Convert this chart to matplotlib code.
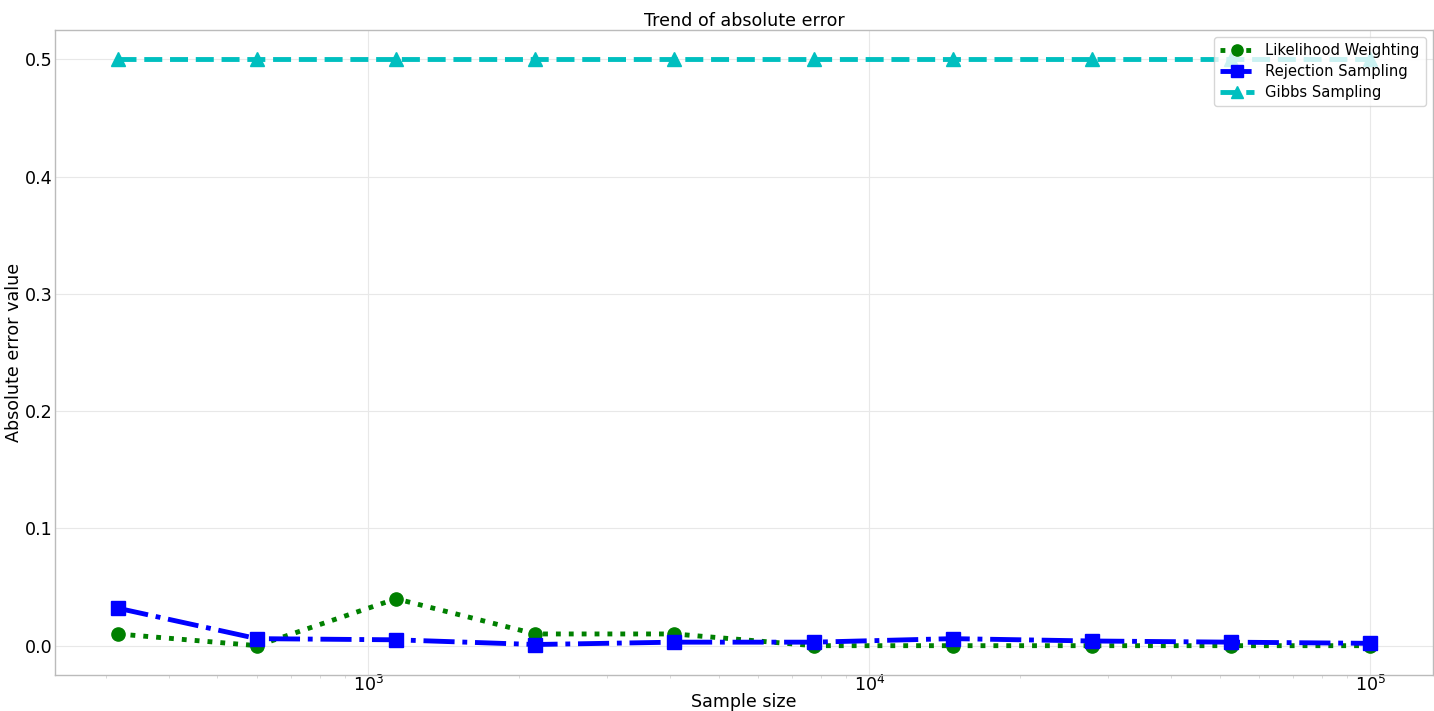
import matplotlib
matplotlib.use("Agg")
import matplotlib.pyplot as plt

sample_sizes = [316, 600, 1136, 2154, 4084, 7743, 14678, 27826, 52749, 100000]
likelihood_weighting = [0.01, 0.0, 0.04, 0.01, 0.01, 0.0, 0.0, 0.0, 0.0, 0.0]
rejection_sampling = [0.032, 0.006, 0.005, 0.001, 0.003, 0.003, 0.006, 0.004, 0.003, 0.002]
gibbs_sampling = [0.5, 0.5, 0.5, 0.5, 0.5, 0.5, 0.5, 0.5, 0.5, 0.5]

plt.style.use('seaborn-v0_8-whitegrid')
plt.rcParams['font.family'] = ['DejaVu Sans']
plt.rcParams['text.color'] = 'black'
plt.rcParams['axes.labelcolor'] = 'black'
plt.rcParams['xtick.color'] = 'black'
plt.rcParams['ytick.color'] = 'black'

fig = plt.figure(figsize=(14.34, 7.11), dpi=100)
ax = fig.add_axes([55/1434, 36/711, (1433-55)/1434, (675-30)/711])

ax.plot(sample_sizes, likelihood_weighting, color='green', linestyle=':', marker='o',
        linewidth=3.5, markersize=9.5, label='Likelihood Weighting')
ax.plot(sample_sizes, rejection_sampling, color='blue', linestyle='-.', marker='s',
        linewidth=3.5, markersize=9.5, label='Rejection Sampling')
ax.plot(sample_sizes, gibbs_sampling, color='c', linestyle='--', marker='^',
        linewidth=3.5, markersize=9.5, label='Gibbs Sampling')

ax.set_xscale('log')
ax.set_title('Trend of absolute error', fontsize=12.6, pad=1.5)
ax.set_xlabel('Sample size', fontsize=12.6, labelpad=-1.5)
ax.set_ylabel('Absolute error value', fontsize=12.6, labelpad=1)
ax.tick_params(axis='y', which='major', labelsize=12.6, pad=2)
ax.tick_params(axis='x', which='major', labelsize=12.6, pad=0)
ax.tick_params(axis='x', which='minor', length=2, color='lightgray', bottom=True)
ax.grid(True, which='major', color='#e8e8e8')
for s in ax.spines.values():
    s.set_color('#bbbbbb')
ax.legend(loc='upper right', fontsize=10.6, frameon=True, markerscale=0.85,
          borderaxespad=0.5, labelspacing=0.4, handlelength=2.3)

fig.savefig('out.png', dpi=100)
